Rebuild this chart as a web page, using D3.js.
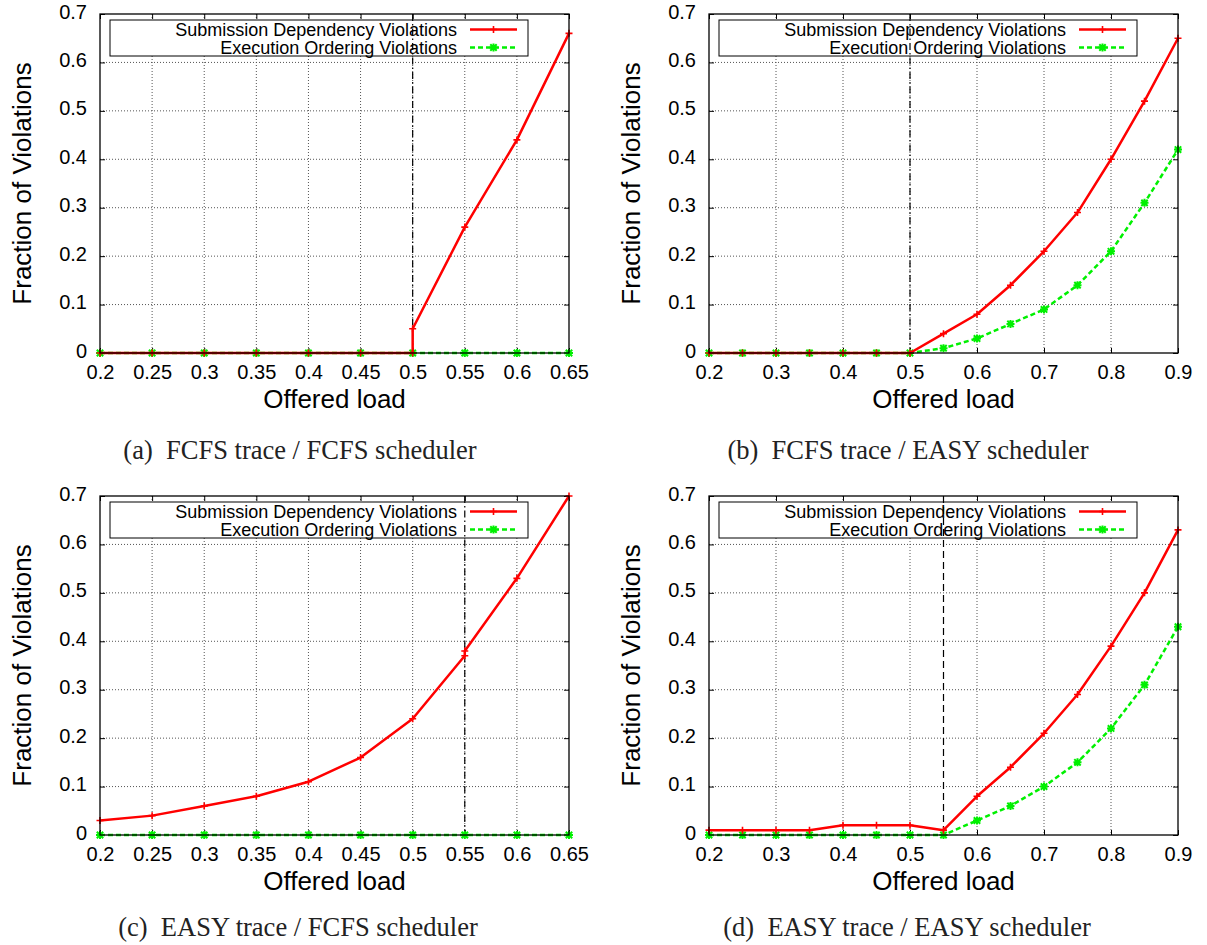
<!DOCTYPE html>
<html>
<head>
<meta charset="utf-8">
<script src="https://cdn.jsdelivr.net/npm/d3@7"></script>
<style>
  html, body { margin: 0; padding: 0; background: #fff; }
  svg { display: block; }
</style>
</head>
<body>
<svg id="chart" width="1207" height="945"></svg>
<script>
// ---------------- DATA ----------------
const loadsNarrow = [0.2, 0.25, 0.3, 0.35, 0.4, 0.45, 0.5, 0.55, 0.6, 0.65];
const loadsWide = [0.2, 0.25, 0.3, 0.35, 0.4, 0.45, 0.5, 0.55, 0.6, 0.65, 0.7, 0.75, 0.8, 0.85, 0.9];

const xTickValuesNarrow = [0.2, 0.25, 0.3, 0.35, 0.4, 0.45, 0.5, 0.55, 0.6, 0.65];
const xTickLabelsNarrow = ["0.2", "0.25", "0.3", "0.35", "0.4", "0.45", "0.5", "0.55", "0.6", "0.65"];
const xTickValuesWide = [0.2, 0.3, 0.4, 0.5, 0.6, 0.7, 0.8, 0.9];
const xTickLabelsWide = ["0.2", "0.3", "0.4", "0.5", "0.6", "0.7", "0.8", "0.9"];
const yTickValues = [0, 0.1, 0.2, 0.3, 0.4, 0.5, 0.6, 0.7];
const yTickLabels = ["0", "0.1", "0.2", "0.3", "0.4", "0.5", "0.6", "0.7"];

const seriesNames = ["Submission Dependency Violations", "Execution Ordering Violations"];
const xAxisTitle = "Offered load";
const yAxisTitle = "Fraction of Violations";

// (a) FCFS trace / FCFS scheduler
const aSubLoads = [0.2, 0.25, 0.3, 0.35, 0.4, 0.45, 0.5, 0.5, 0.55, 0.6, 0.65];
const aSub = [0, 0, 0, 0, 0, 0, 0, 0.05, 0.26, 0.44, 0.66];
const aExeLoads = loadsNarrow;
const aExe = [0, 0, 0, 0, 0, 0, 0, 0, 0, 0];
const aThreshold = 0.5;

// (b) FCFS trace / EASY scheduler
const bSubLoads = loadsWide;
const bSub = [0, 0, 0, 0, 0, 0, 0, 0.04, 0.08, 0.14, 0.21, 0.29, 0.40, 0.52, 0.65];
const bExeLoads = loadsWide;
const bExe = [0, 0, 0, 0, 0, 0, 0, 0.01, 0.03, 0.06, 0.09, 0.14, 0.21, 0.31, 0.42];
const bThreshold = 0.5;

// (c) EASY trace / FCFS scheduler
const cSubLoads = [0.2, 0.25, 0.3, 0.35, 0.4, 0.45, 0.5, 0.55, 0.55, 0.6, 0.65];
const cSub = [0.03, 0.04, 0.06, 0.08, 0.11, 0.16, 0.24, 0.37, 0.38, 0.53, 0.70];
const cExeLoads = loadsNarrow;
const cExe = [0, 0, 0, 0, 0, 0, 0, 0, 0, 0];
const cThreshold = 0.55;

// (d) EASY trace / EASY scheduler
const dSubLoads = loadsWide;
const dSub = [0.01, 0.01, 0.01, 0.01, 0.02, 0.02, 0.02, 0.01, 0.08, 0.14, 0.21, 0.29, 0.39, 0.50, 0.63];
const dExeLoads = loadsWide;
const dExe = [0, 0, 0, 0, 0, 0, 0, 0, 0.03, 0.06, 0.10, 0.15, 0.22, 0.31, 0.43];
const dThreshold = 0.55;

const captions = [
  "(a)\u00a0 FCFS trace / FCFS scheduler",
  "(b)\u00a0 FCFS trace / EASY scheduler",
  "(c)\u00a0 EASY trace / FCFS scheduler",
  "(d)\u00a0 EASY trace / EASY scheduler"
];

// ---------------- LAYOUT ----------------
const PW = 469, PH = 339;
const SANS = "'Liberation Sans', Arial, Helvetica, sans-serif";
const SERIF = "'Liberation Serif', 'Times New Roman', Times, serif";
const RED = "#ff0000", GREEN = "#00f000";

const panels = [
  { left: 100, top: 14, xMax: 0.65, xt: xTickValuesNarrow, xl: xTickLabelsNarrow,
    sub: [aSubLoads, aSub], exe: [aExeLoads, aExe], thr: aThreshold, thrDash: "7,3,1.5,3", cap: captions[0], capX: 300, capY: 459 },
  { left: 709, top: 14, xMax: 0.9, xt: xTickValuesWide, xl: xTickLabelsWide,
    sub: [bSubLoads, bSub], exe: [bExeLoads, bExe], thr: bThreshold, thrDash: "7,3,1.5,3", cap: captions[1], capX: 908, capY: 459 },
  { left: 100, top: 496, xMax: 0.65, xt: xTickValuesNarrow, xl: xTickLabelsNarrow,
    sub: [cSubLoads, cSub], exe: [cExeLoads, cExe], thr: cThreshold, thrDash: "7,3,1.5,3", cap: captions[2], capX: 298, capY: 936 },
  { left: 709, top: 496, xMax: 0.9, xt: xTickValuesWide, xl: xTickLabelsWide,
    sub: [dSubLoads, dSub], exe: [dExeLoads, dExe], thr: dThreshold, thrDash: "7,4", cap: captions[3], capX: 907, capY: 936 }
];

const svg = d3.select("#chart");

function plusPath(s) { return `M${-s},0H${s}M0,${-s}V${s}`; }
function starPath(s) {
  const t = s * 0.8;
  return `M${-s},0H${s}M0,${-s}V${s}M${-t},${-t}L${t},${t}M${-t},${t}L${t},${-t}`;
}

panels.forEach(p => {
  const g = svg.append("g").attr("transform", `translate(${p.left},${p.top})`);
  const x = d3.scaleLinear().domain([0.2, p.xMax]).range([0, PW]);
  const y = d3.scaleLinear().domain([0, 0.7]).range([PH, 0]);

  // grid
  const grid = g.append("g");
  grid.selectAll("line.gx").data(p.xt.slice(1, -1)).join("line")
    .attr("x1", d => x(d)).attr("x2", d => x(d)).attr("y1", 0).attr("y2", PH)
    .attr("stroke", "#555").attr("stroke-width", 1).attr("stroke-dasharray", "1,2");
  grid.selectAll("line.gy").data(yTickValues.slice(1, -1)).join("line")
    .attr("x1", 0).attr("x2", PW).attr("y1", d => y(d)).attr("y2", d => y(d))
    .attr("stroke", "#555").attr("stroke-width", 1).attr("stroke-dasharray", "1,2");

  // axes (inward ticks)
  const xAxis = d3.axisBottom(x).tickValues(p.xt).tickFormat((d, i) => p.xl[i]).tickSize(-5).tickPadding(0);
  const gx = g.append("g").attr("transform", `translate(0,${PH})`).call(xAxis);
  gx.select(".domain").remove();
  gx.selectAll(".tick line").attr("stroke", "#000");
  gx.selectAll(".tick text").attr("y", 26).attr("dy", null)
    .attr("font-family", SANS).attr("font-size", 20).attr("fill", "#000");

  const xTop = d3.axisTop(x).tickValues(p.xt).tickFormat("").tickSize(-5);
  const gxt = g.append("g").call(xTop);
  gxt.select(".domain").remove();
  gxt.selectAll(".tick line").attr("stroke", "#000");

  const yAxis = d3.axisLeft(y).tickValues(yTickValues).tickFormat((d, i) => yTickLabels[i]).tickSize(-5).tickPadding(0);
  const gy = g.append("g").call(yAxis);
  gy.select(".domain").remove();
  gy.selectAll(".tick line").attr("stroke", "#000");
  gy.selectAll(".tick text").attr("x", -13).attr("dy", null).attr("y", 4)
    .attr("font-family", SANS).attr("font-size", 20).attr("fill", "#000");

  const yRight = d3.axisRight(y).tickValues(yTickValues).tickFormat("").tickSize(-5);
  const gyr = g.append("g").attr("transform", `translate(${PW},0)`).call(yRight);
  gyr.select(".domain").remove();
  gyr.selectAll(".tick line").attr("stroke", "#000");

  // legend
  const lg = g.append("g").attr("transform", "translate(10,6)");
  lg.append("rect").attr("x", 0).attr("y", 0).attr("width", 418).attr("height", 36)
    .attr("fill", "#fff").attr("stroke", "#000").attr("stroke-width", 1);
  const rows = [
    { name: seriesNames[0], color: RED, dash: null, marker: plusPath(3.5), mw: 1.6 },
    { name: seriesNames[1], color: GREEN, dash: "5,3", marker: starPath(4), mw: 2 }
  ];
  rows.forEach((r, i) => {
    const cy = 9.5 + i * 18;
    lg.append("text").attr("x", 347).attr("y", cy + 6.5).attr("text-anchor", "end")
      .attr("font-family", SANS).attr("font-size", 18).attr("fill", "#000").text(r.name);
    lg.append("line").attr("x1", 360).attr("x2", 407).attr("y1", cy).attr("y2", cy)
      .attr("stroke", r.color).attr("stroke-width", 2.5).attr("stroke-dasharray", r.dash);
    lg.append("path").attr("d", r.marker).attr("transform", `translate(383.5,${cy})`)
      .attr("stroke", r.color).attr("stroke-width", r.mw).attr("fill", "none");
  });

  // threshold line
  g.append("line").attr("x1", x(p.thr)).attr("x2", x(p.thr)).attr("y1", 0).attr("y2", PH)
    .attr("stroke", "#000").attr("stroke-width", 1.2).attr("stroke-dasharray", p.thrDash);

  // series
  const line = d3.line().x(d => x(d[0])).y(d => y(d[1]));
  const exePts = p.exe[0].map((l, i) => [l, p.exe[1][i]]);
  const subPts = p.sub[0].map((l, i) => [l, p.sub[1][i]]);

  g.append("path").datum(exePts).attr("d", line).attr("fill", "none")
    .attr("stroke", GREEN).attr("stroke-width", 2.5).attr("stroke-dasharray", "5,3");
  g.selectAll("path.me").data(exePts).join("path").attr("class", "me")
    .attr("d", starPath(4)).attr("transform", d => `translate(${x(d[0])},${y(d[1])})`)
    .attr("stroke", GREEN).attr("stroke-width", 2).attr("fill", "none");

  g.append("path").datum(subPts).attr("d", line).attr("fill", "none")
    .attr("stroke", RED).attr("stroke-width", 2.5).attr("stroke-linejoin", "round");
  g.selectAll("path.ms").data(subPts).join("path").attr("class", "ms")
    .attr("d", plusPath(3.5)).attr("transform", d => `translate(${x(d[0])},${y(d[1])})`)
    .attr("stroke", RED).attr("stroke-width", 1.6).attr("fill", "none");

  // frame
  g.append("rect").attr("x", 0).attr("y", 0).attr("width", PW).attr("height", PH)
    .attr("fill", "none").attr("stroke", "#000").attr("stroke-width", 1.3);

  // axis titles
  g.append("text").attr("x", PW / 2).attr("y", PH + 55).attr("text-anchor", "middle")
    .attr("font-family", SANS).attr("font-size", 26).attr("fill", "#000").text(xAxisTitle);
  g.append("text").attr("transform", `translate(-69,${PH / 2}) rotate(-90)`).attr("text-anchor", "middle")
    .attr("font-family", SANS).attr("font-size", 26).attr("fill", "#000").text(yAxisTitle);

  // caption
  svg.append("text").attr("x", p.capX).attr("y", p.capY).attr("text-anchor", "middle")
    .attr("font-family", SERIF).attr("font-size", 26.5).attr("fill", "#222").text(p.cap);
});
</script>
</body>
</html>
